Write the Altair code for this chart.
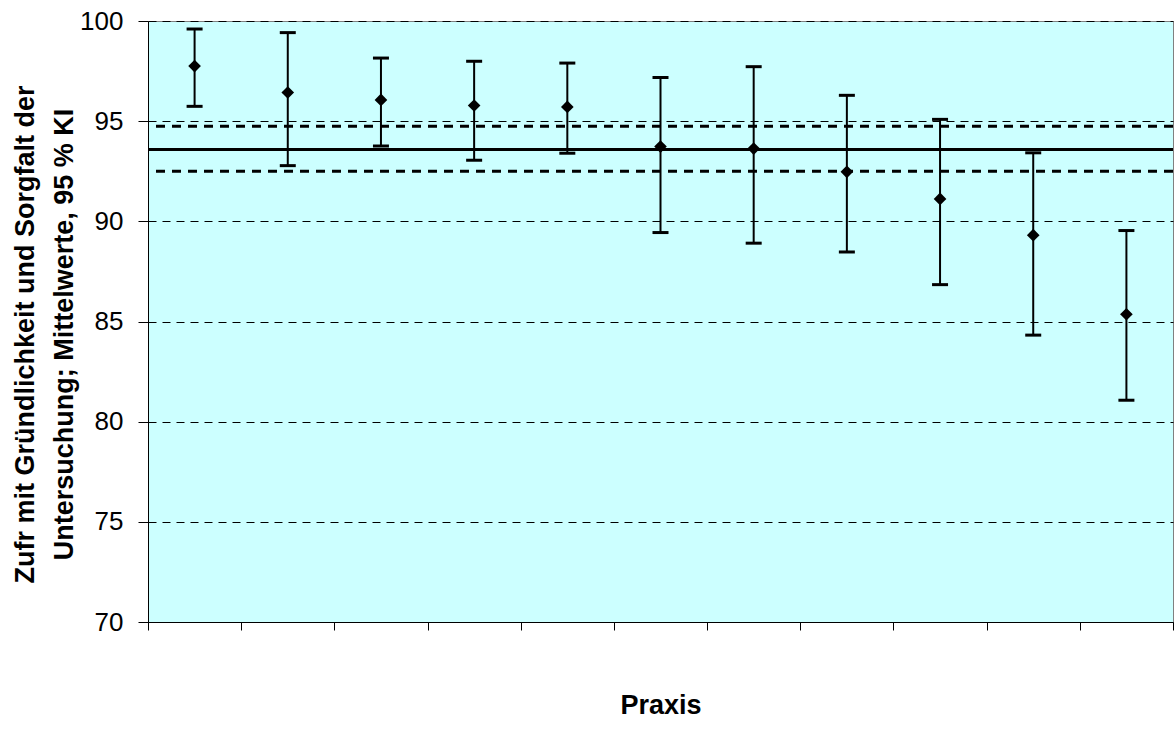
import altair as alt
import pandas as pd

# Practices (1..11), mean satisfaction and 95 % confidence interval bounds
praxis = [1, 2, 3, 4, 5, 6, 7, 8, 9, 10, 11]
mittelwert = [97.75, 96.43, 96.06, 95.78, 95.71, 93.73, 93.63, 92.47, 91.12, 89.31, 85.36]
ki_unten = [95.74, 92.78, 93.76, 93.05, 93.40, 89.44, 88.91, 88.47, 86.84, 84.32, 81.07]
ki_oben = [99.60, 99.42, 98.15, 97.99, 97.90, 97.18, 97.72, 96.29, 95.09, 93.42, 89.54]

# Overall mean with its confidence band
gesamt_mittel = [93.58]
gesamt_ki = [92.50, 94.75]

y_ticks = [70, 75, 80, 85, 90, 95, 100]
x_ticks = [p - 0.5 for p in praxis] + [praxis[-1] + 0.5]

FONT = "Liberation Sans"

df = pd.DataFrame({"Praxis": praxis, "Mittel": mittelwert,
                   "Unten": ki_unten, "Oben": ki_oben})
df_mean = pd.DataFrame({"wert": gesamt_mittel})
df_ki = pd.DataFrame({"wert": gesamt_ki})

x_scale = alt.Scale(domain=[0.5, 11.5], nice=False, zero=False)
y_scale = alt.Scale(domain=[70, 100], nice=False, zero=False)

x_axis = alt.Axis(values=x_ticks, labels=False, grid=False, title="Praxis",
                  tickSize=8, tickColor="black", domainColor="black",
                  titleFont=FONT, titleFontSize=27, titleFontWeight="bold",
                  titleColor="black", titleBaseline="alphabetic", titleY=91)

y_axis = alt.Axis(values=y_ticks, grid=True, gridDash=[8, 6], gridColor="black",
                  gridWidth=1, gridOpacity=1, tickSize=10, tickColor="black",
                  domainColor="black", labelFont=FONT, labelFontSize=26,
                  labelColor="black", labelPadding=15,
                  title=["Zufr mit Gründlichkeit und Sorgfalt der",
                         "Untersuchung; Mittelwerte, 95 % KI"],
                  titleFont=FONT, titleFontSize=27, titleFontWeight="bold",
                  titleColor="black", titleLineHeight=39,
                  titleBaseline="alphabetic", titleX=-115, titleY=313,
                  titleAngle=270)

bars = alt.Chart(df).mark_rule(color="black", strokeWidth=2).encode(
    x=alt.X("Praxis:Q", scale=x_scale, axis=x_axis),
    y=alt.Y("Unten:Q", scale=y_scale, axis=y_axis),
    y2="Oben:Q",
)

caps_top = alt.Chart(df).mark_tick(color="black", orient="horizontal",
                                   size=16, thickness=3, opacity=1).encode(
    x=alt.X("Praxis:Q", scale=x_scale), y=alt.Y("Oben:Q", scale=y_scale))
caps_bottom = alt.Chart(df).mark_tick(color="black", orient="horizontal",
                                      size=16, thickness=3, opacity=1).encode(
    x=alt.X("Praxis:Q", scale=x_scale), y=alt.Y("Unten:Q", scale=y_scale))

mean_line = alt.Chart(df_mean).mark_rule(color="black", strokeWidth=3).encode(
    y=alt.Y("wert:Q", scale=y_scale))
ki_lines = alt.Chart(df_ki).mark_rule(color="black", strokeWidth=3,
                                      strokeDash=[9, 7]).encode(
    y=alt.Y("wert:Q", scale=y_scale))

points = alt.Chart(df).mark_point(shape="diamond", filled=True, color="black",
                                  size=160, opacity=1).encode(
    x=alt.X("Praxis:Q", scale=x_scale), y=alt.Y("Mittel:Q", scale=y_scale))

chart = alt.layer(bars, ki_lines, mean_line, caps_top, caps_bottom, points).properties(
    width=1025, height=601,
    autosize=alt.AutoSizeParams(type="none"),
    padding={"left": 148, "top": 21, "right": 3, "bottom": 109},
    background="white",
).configure_view(fill="#CCFFFF", stroke="#808080", strokeWidth=1)

chart.save("out.html", embed_options={"renderer": "svg", "actions": False})
